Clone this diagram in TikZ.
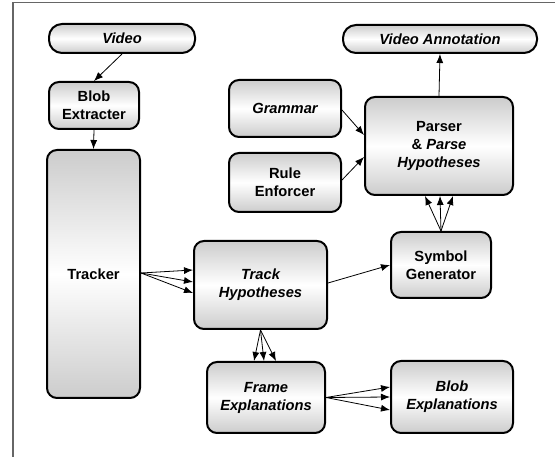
\documentclass[tikz,border=0pt]{standalone}
\usepackage{fontspec}
\setmainfont{Liberation Sans}
\usetikzlibrary{calc,arrows.meta}
\begin{document}
\begin{tikzpicture}[x=1pt,y=-1pt,
  box/.style={draw=black, line width=2pt, rounded corners=10pt, rectangle,
    top color=gray!40, bottom color=gray!40, middle color=white,
    inner sep=0pt, align=center, font=\fontsize{14.7}{18}\selectfont\bfseries},
  pill/.style={box, rounded corners=13pt},
  arr/.style={line width=0.8pt, -{Latex[length=9pt,width=7pt]}},
  frameline/.style={draw=gray!80!black, line width=1.4pt}
]
\useasboundingbox (0,0) rectangle (555,457);
\draw[frameline] (13,457) -- (13,2.5) -- (555,2.5);

\node[pill, minimum width=146pt, minimum height=29pt] (video) at (122,38.5) {\itshape Video};
\node[box, minimum width=90pt, minimum height=47pt] (blobex) at (94,105.5) {Blob\\Extracter};
\node[box, minimum width=93pt, minimum height=248pt] (tracker) at (93.5,274) {Tracker};
\node[box, minimum width=112pt, minimum height=57pt] (grammar) at (285,108.5) {\itshape Grammar};
\node[box, minimum width=112pt, minimum height=59pt] (rule) at (285,182.5) {Rule\\Enforcer};
\node[box, minimum width=148pt, minimum height=98pt] (parser) at (439,146) {Parser\\\& \itshape Parse\\\itshape Hypotheses};
\node[pill, minimum width=194pt, minimum height=28pt] (vann) at (440,39) {\itshape Video Annotation};
\node[box, minimum width=100pt, minimum height=66pt] (symgen) at (441,265) {Symbol\\Generator};
\node[box, minimum width=133pt, minimum height=88pt] (trackhyp) at (260.5,285) {\itshape Track\\\itshape Hypotheses};
\node[box, minimum width=118pt, minimum height=71pt] (frame) at (266,397.5) {\itshape Frame\\\itshape Explanations};
\node[box, minimum width=122pt, minimum height=72pt] (blobexpl) at (452,397) {\itshape Blob\\\itshape Explanations};

\draw[arr] (video.south) -- (blobex.north);
\draw[arr] (blobex.south) -- (tracker.north);
\foreach \dy in {-15,-3,8} {
  \draw[arr] ($(tracker.east)+(0,-1)$) -- ($(trackhyp.west)+(0,\dy)$);
}
\draw[arr] ($(trackhyp.east)+(0,-2)$) -- (symgen.west);
\foreach \dx in {-12,-2,10} {
  \draw[arr] (trackhyp.south) -- ($(frame.north)+(\dx,0)$);
}
\foreach \dy in {-10,0,13} {
  \draw[arr] (frame.east) -- ($(blobexpl.west)+(0,\dy)$);
}
\foreach \dx in {-14,1,14} {
  \draw[arr] (symgen.north) -- ($(parser.south)+(\dx,0)$);
}
\draw[arr] ($(grammar.east)+(0,1.5)$) -- ($(parser.west)+(0,-11)$);
\draw[arr] ($(rule.east)+(0,-2.5)$) -- ($(parser.west)+(0,11)$);
\draw[arr] (parser.north) -- (vann.south);
\end{tikzpicture}
\end{document}
